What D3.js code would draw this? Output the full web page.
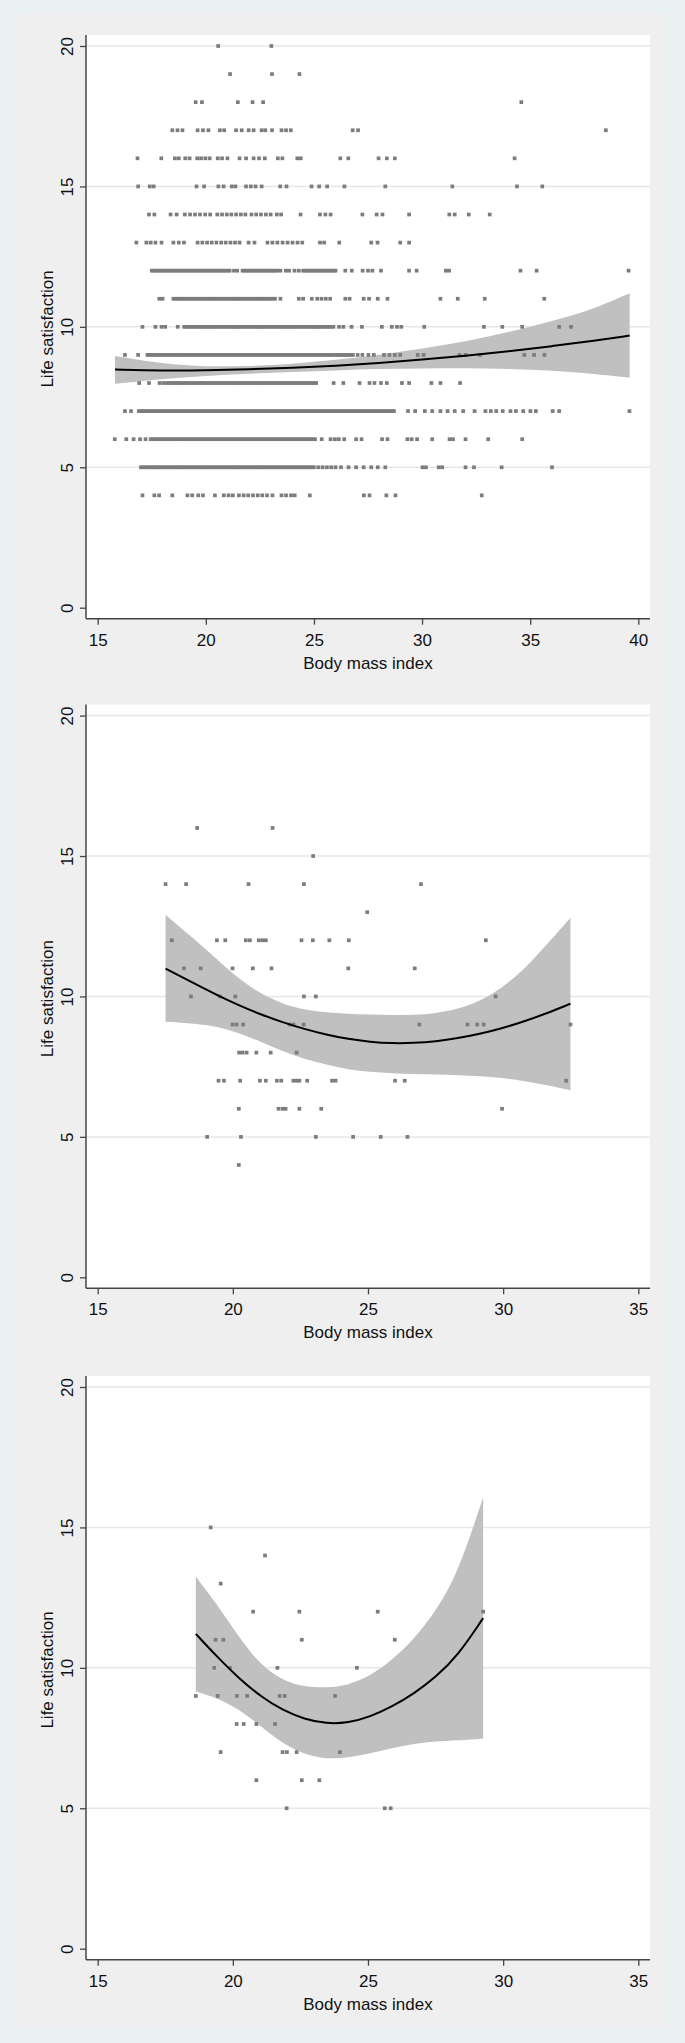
<!DOCTYPE html>
<html>
<head>
<meta charset="utf-8">
<script src="https://cdn.jsdelivr.net/npm/d3@7"></script>
<style>
  body { margin: 0; background: #e9f0f2; }
  svg { display: block; }
  text { font-family: "Liberation Sans", Arial, sans-serif; fill: #111; }
</style>
</head>
<body>
<svg width="685" height="2043"></svg>
<script>
// Panel 1: BMI values of the observations, one array per life-satisfaction score
var p1_20 = [20.57, 23.03];
var p1_19 = [21.12, 23.06, 24.33];
var p1_18 = [19.53, 19.82, 21.48, 22.16, 22.65, 34.59];
var p1_17 = [18.45, 18.69, 18.92, 19.62, 19.87, 20.12, 20.65, 20.85, 21.4, 21.66, 21.98, 22.21, 22.58, 22.75, 23.06, 23.5, 23.71, 23.93, 26.79, 27.04, 38.5];
var p1_16 = [16.84, 17.94, 18.57, 18.75, 19.05, 19.25, 19.6, 19.78, 19.98, 20.18, 20.55, 20.75, 21.0, 21.56, 21.86, 22.21, 22.46, 22.73, 23.33, 23.54, 24.23, 24.39, 26.22, 26.59, 27.99, 28.37, 28.74, 34.28];
var p1_15 = [16.87, 17.41, 17.59, 19.57, 19.92, 20.58, 20.82, 21.2, 21.37, 21.86, 22.08, 22.3, 22.58, 23.44, 23.73, 24.89, 25.24, 25.61, 26.41, 28.3, 31.4, 34.39, 35.56];
var p1_14 = [17.37, 17.62, 18.37, 18.65, 19.03, 19.27, 19.5, 19.73, 19.97, 20.2, 20.53, 20.75, 20.97, 21.18, 21.4, 21.62, 21.83, 22.11, 22.33, 22.55, 22.78, 23.0, 23.28, 23.48, 24.38, 25.28, 25.53, 25.77, 27.24, 27.9, 28.17, 29.4, 31.26, 31.51, 32.16, 33.13];
var p1_13 = [16.79, 17.25, 17.45, 17.67, 17.95, 18.5, 18.75, 18.99, 19.62, 19.84, 20.06, 20.27, 20.49, 20.71, 20.92, 21.14, 21.35, 21.56, 21.98, 22.25, 22.85, 23.08, 23.31, 23.55, 23.78, 24.01, 24.24, 24.46, 25.28, 25.47, 26.17, 27.65, 27.94, 28.99, 29.4];
var p1_12 = [17.5, 17.6, 17.7, 17.8, 17.9, 18, 18.1, 18.2, 18.3, 18.4, 18.5, 18.6, 18.7, 18.8, 18.9, 19, 19.1, 19.2, 19.3, 19.4, 19.5, 19.6, 19.7, 19.8, 19.9, 20, 20.1, 20.2, 20.3, 20.4, 20.5, 20.6, 20.7, 20.8, 20.9, 21, 21.1,
  21.3, 21.45, 21.7, 21.8, 21.9, 22, 22.1, 22.2, 22.3, 22.4, 22.5, 22.6, 22.7, 22.8, 22.9, 23, 23.1, 23.2, 23.3,
  23.45, 23.7, 23.85, 24.1, 24.3, 24.5, 24.6, 24.7, 24.8, 24.9, 25, 25.1, 25.2, 25.3, 25.4, 25.5, 25.6, 25.7, 25.8, 25.9, 26,
  26.45, 26.75, 27.25, 27.5, 27.7, 28.1, 29.4, 29.75, 31.1, 31.25, 34.55, 35.3, 39.55];
var p1_11 = [17.85, 18.0, 18.5, 18.6, 18.7, 18.8, 18.9, 19, 19.1, 19.2, 19.3, 19.4, 19.5, 19.6, 19.7, 19.8, 19.9, 20, 20.1, 20.2, 20.3, 20.4, 20.5, 20.6, 20.7, 20.8, 20.9, 21, 21.1, 21.2, 21.3, 21.4, 21.5, 21.6, 21.7, 21.8, 21.9, 22, 22.1, 22.2, 22.3, 22.4, 22.5, 22.6, 22.7, 22.8, 22.9, 23, 23.1, 23.2,
  23.45, 24.3, 24.5, 24.9, 25.15, 25.35, 25.55, 25.75, 26.45, 26.65, 27.3, 27.55, 27.95, 28.4, 30.85, 31.65, 32.9, 35.65];
var p1_10 = [17.07, 17.67, 17.95, 18.12, 18.7, 19, 19.1, 19.2, 19.3, 19.4, 19.5, 19.6, 19.7, 19.8, 19.9, 20, 20.1, 20.2, 20.3, 20.4, 20.5, 20.6, 20.7, 20.8, 20.9, 21, 21.1, 21.2, 21.3, 21.4, 21.5, 21.6, 21.7, 21.8, 21.9, 22, 22.1, 22.2, 22.3, 22.4, 22.5, 22.6, 22.7, 22.8, 22.9, 23, 23.1, 23.2, 23.3, 23.4, 23.5, 23.6, 23.7, 23.8, 23.9, 24, 24.1, 24.2, 24.3, 24.4, 24.5, 24.6, 24.7, 24.8, 24.9, 25, 25.1, 25.2, 25.3, 25.4, 25.5, 25.6, 25.7, 25.8, 25.9,
  26.16, 26.36, 26.74, 27.22, 28.14, 28.6, 28.84, 29.04, 30.1, 32.86, 33.71, 34.63, 36.34, 36.89];
var p1_9 = [16.26, 16.87, 17.3, 17.4, 17.5, 17.6, 17.7, 17.8, 17.9, 18, 18.1, 18.2, 18.3, 18.4, 18.5, 18.6, 18.7, 18.8, 18.9, 19, 19.1, 19.2, 19.3, 19.4, 19.5, 19.6, 19.7, 19.8, 19.9, 20, 20.1, 20.2, 20.3, 20.4, 20.5, 20.6, 20.7, 20.8, 20.9, 21, 21.1, 21.2, 21.3, 21.4, 21.5, 21.6, 21.7, 21.8, 21.9, 22, 22.1, 22.2, 22.3, 22.4, 22.5, 22.6, 22.7, 22.8, 22.9, 23, 23.1, 23.2, 23.3, 23.4, 23.5, 23.6, 23.7, 23.8, 23.9, 24, 24.1, 24.2, 24.3, 24.4, 24.5, 24.6, 24.7, 24.8, 24.9, 25, 25.1, 25.2, 25.3, 25.4, 25.5, 25.6, 25.7, 25.8, 25.9, 26, 26.1, 26.2, 26.3, 26.4, 26.5, 26.6, 26.7, 26.8,
  27.02, 27.24, 27.52, 27.77, 28.24, 28.49, 28.74, 28.99, 29.8, 30.07, 31.73, 32.01, 32.68, 34.73, 35.18, 35.66];
var p1_8 = [16.92, 17.37, 17.86, 18.03, 18.2, 18.3, 18.4, 18.5, 18.6, 18.7, 18.8, 18.9, 19, 19.1, 19.2, 19.3, 19.4, 19.5, 19.6, 19.7, 19.8, 19.9, 20, 20.1, 20.2, 20.3, 20.4, 20.5, 20.6, 20.7, 20.8, 20.9, 21, 21.1, 21.2, 21.3, 21.4, 21.5, 21.6, 21.7, 21.8, 21.9, 22, 22.1, 22.2, 22.3, 22.4, 22.5, 22.6, 22.7, 22.8, 22.9, 23, 23.1, 23.2, 23.3, 23.4, 23.5, 23.6, 23.7, 23.8, 23.9, 24, 24.1, 24.2, 24.3, 24.4, 24.5, 24.6, 24.7, 24.8, 24.9, 25, 25.1,
  25.91, 26.36, 27.11, 27.57, 27.8, 28.1, 28.37, 29.07, 29.4, 30.43, 30.85, 31.76];
var p1_7 = [16.26, 16.54, 16.9, 17, 17.1, 17.2, 17.3, 17.4, 17.5, 17.6, 17.7, 17.8, 17.9, 18, 18.1, 18.2, 18.3, 18.4, 18.5, 18.6, 18.7, 18.8, 18.9, 19, 19.1, 19.2, 19.3, 19.4, 19.5, 19.6, 19.7, 19.8, 19.9, 20, 20.1, 20.2, 20.3, 20.4, 20.5, 20.6, 20.7, 20.8, 20.9, 21, 21.1, 21.2, 21.3, 21.4, 21.5, 21.6, 21.7, 21.8, 21.9, 22, 22.1, 22.2, 22.3, 22.4, 22.5, 22.6, 22.7, 22.8, 22.9, 23, 23.1, 23.2, 23.3, 23.4, 23.5, 23.6, 23.7, 23.8, 23.9, 24, 24.1, 24.2, 24.3, 24.4, 24.5, 24.6, 24.7, 24.8, 24.9, 25, 25.1, 25.2, 25.3, 25.4, 25.5, 25.6, 25.7, 25.8, 25.9, 26, 26.1, 26.2, 26.3, 26.4, 26.5, 26.6, 26.7, 26.8, 26.9, 27, 27.1, 27.2, 27.3, 27.4, 27.5, 27.6, 27.7, 27.8, 27.9, 28, 28.1, 28.2, 28.3, 28.4, 28.5, 28.6, 28.7,
  29.35, 29.68, 30.13, 30.47, 30.85, 31.18, 31.51, 31.9, 32.43, 32.93, 33.18, 33.43, 33.73, 34.09, 34.34, 34.68, 35.01, 35.26, 36.04, 36.34, 39.59];
var p1_6 = [15.79, 16.32, 16.66, 16.96, 17.21, 17.45, 17.55, 17.65, 17.75, 17.85, 17.95, 18.05, 18.15, 18.25, 18.35, 18.45, 18.55, 18.65, 18.75, 18.85, 18.95, 19.05, 19.15, 19.25, 19.35, 19.45, 19.55, 19.65, 19.75, 19.85, 19.95, 20.05, 20.15, 20.25, 20.35, 20.45, 20.55, 20.65, 20.75, 20.85, 20.95, 21.05, 21.15, 21.25, 21.35, 21.45, 21.55, 21.65, 21.75, 21.85, 21.95, 22.05, 22.15, 22.25, 22.35, 22.45, 22.55, 22.65, 22.75, 22.85, 22.95, 23.05, 23.15, 23.25, 23.35, 23.45, 23.55, 23.65, 23.75, 23.85, 23.95, 24.05, 24.15, 24.25, 24.35, 24.45, 24.55, 24.65, 24.75, 24.85, 24.95, 25.05,
  25.36, 25.77, 25.97, 26.15, 26.4, 26.95, 27.2, 28.15, 28.4, 29.32, 29.52, 29.77, 30.47, 31.27, 31.43, 32.01, 33.06, 34.63];
var p1_5 = [17, 17.1, 17.2, 17.3, 17.4, 17.5, 17.6, 17.7, 17.8, 17.9, 18, 18.1, 18.2, 18.3, 18.4, 18.5, 18.6, 18.7, 18.8, 18.9, 19, 19.1, 19.2, 19.3, 19.4, 19.5, 19.6, 19.7, 19.8, 19.9, 20, 20.1, 20.2, 20.3, 20.4, 20.5, 20.6, 20.7, 20.8, 20.9, 21, 21.1, 21.2, 21.3, 21.4, 21.5, 21.6, 21.7, 21.8, 21.9, 22, 22.1, 22.2, 22.3, 22.4, 22.5, 22.6, 22.7, 22.8, 22.9, 23, 23.1, 23.2, 23.3, 23.4, 23.5, 23.6, 23.7, 23.8, 23.9, 24, 24.1, 24.2, 24.3, 24.4, 24.5, 24.6, 24.7, 24.8, 24.9, 25,
  25.2, 25.4, 25.6, 25.8, 26.0, 26.25, 26.6, 26.95, 27.3, 27.65, 27.95, 28.3, 30.02, 30.18, 30.77, 30.93, 32.01, 32.4, 33.68, 36.01];
var p1_4 = [17.07, 17.62, 17.84, 18.45, 19.15, 19.37, 19.65, 19.87, 20.42, 20.83, 21.05, 21.25, 21.53, 21.75, 21.96, 22.18, 22.4, 22.61, 22.83, 23.08, 23.5, 23.71, 23.94, 24.11, 24.81, 27.31, 27.57, 28.35, 28.77, 32.76];

var p1Rows = [[20, p1_20], [19, p1_19], [18, p1_18], [17, p1_17], [16, p1_16], [15, p1_15], [14, p1_14], [13, p1_13],
  [12, p1_12], [11, p1_11], [10, p1_10], [9, p1_9], [8, p1_8], [7, p1_7], [6, p1_6], [5, p1_5], [4, p1_4]];

// Panel 1 quadratic fit with confidence band
var p1FitX = [15.8, 18, 20, 22, 24, 26, 28, 30, 32, 34, 36, 38, 39.6];
var p1Fit = [8.48, 8.44, 8.45, 8.49, 8.54, 8.61, 8.71, 8.83, 8.97, 9.13, 9.31, 9.51, 9.69];
var p1Hi = [8.96, 8.68, 8.58, 8.6, 8.68, 8.82, 9.0, 9.22, 9.48, 9.8, 10.2, 10.65, 11.2];
var p1Lo = [7.97, 8.15, 8.26, 8.33, 8.39, 8.45, 8.5, 8.52, 8.53, 8.51, 8.44, 8.33, 8.19];

// Panel 2
var p2_16 = [18.68, 21.47];
var p2_15 = [22.97];
var p2_14 = [17.51, 18.27, 20.58, 22.63, 26.96];
var p2_13 = [24.97];
var p2_12 = [17.74, 19.41, 19.72, 20.48, 20.63, 20.96, 21.09, 21.22, 22.54, 22.96, 23.57, 24.29, 29.36];
var p2_11 = [18.19, 18.81, 19.99, 20.74, 21.43, 24.27, 26.73];
var p2_10 = [18.45, 19.52, 20.09, 22.63, 23.07, 29.72];
var p2_9 = [19.99, 20.14, 20.38, 22.1, 22.24, 22.62, 26.9, 28.68, 29.04, 29.28, 32.49];
var p2_8 = [20.23, 20.36, 20.51, 20.87, 21.4, 22.36];
var p2_7 = [19.47, 19.67, 20.27, 21.0, 21.22, 21.63, 21.79, 22.24, 22.36, 22.46, 22.75, 23.67, 23.8, 26.0, 26.36, 32.33];
var p2_6 = [20.22, 21.69, 21.84, 21.95, 22.46, 23.27, 29.96];
var p2_5 = [19.05, 20.3, 23.07, 24.45, 25.47, 26.46];
var p2_4 = [20.22];
var p2Rows = [[16, p2_16], [15, p2_15], [14, p2_14], [13, p2_13], [12, p2_12], [11, p2_11], [10, p2_10],
  [9, p2_9], [8, p2_8], [7, p2_7], [6, p2_6], [5, p2_5], [4, p2_4]];

var p2FitX = [17.51, 18.6, 19.41, 20.22, 21.03, 21.84, 22.65, 23.46, 24.27, 25.08, 25.89, 26.7, 27.51, 28.32, 29.13, 29.94, 30.75, 31.56, 32.49];
var p2Fit = [10.99, 10.45, 10.05, 9.68, 9.36, 9.08, 8.84, 8.64, 8.48, 8.38, 8.33, 8.34, 8.4, 8.51, 8.66, 8.86, 9.1, 9.38, 9.74];
var p2Hi = [12.91, 12.02, 11.33, 10.63, 10.09, 9.74, 9.52, 9.43, 9.38, 9.35, 9.34, 9.34, 9.4, 9.55, 9.83, 10.29, 10.94, 11.78, 12.8];
var p2Lo = [9.1, 9.03, 8.93, 8.7, 8.39, 8.04, 7.77, 7.57, 7.39, 7.31, 7.26, 7.23, 7.23, 7.2, 7.16, 7.11, 7.0, 6.85, 6.66];

// Panel 3
var p3_15 = [19.18];
var p3_14 = [21.19];
var p3_13 = [19.55];
var p3_12 = [20.75, 22.46, 25.36, 29.26];
var p3_11 = [19.36, 19.65, 22.55, 25.99];
var p3_10 = [19.31, 19.89, 21.65, 24.59];
var p3_9 = [18.63, 19.44, 20.15, 20.53, 21.73, 21.92, 23.78];
var p3_8 = [20.14, 20.4, 20.87, 21.56];
var p3_7 = [19.55, 21.84, 22.0, 22.36, 23.96];
var p3_6 = [20.87, 22.55, 23.2];
var p3_5 = [21.99, 25.62, 25.84];
var p3Rows = [[15, p3_15], [14, p3_14], [13, p3_13], [12, p3_12], [11, p3_11], [10, p3_10],
  [9, p3_9], [8, p3_8], [7, p3_7], [6, p3_6], [5, p3_5]];

var p3FitX = [18.63, 19.41, 20.22, 21.03, 21.84, 22.65, 23.46, 24.27, 25.08, 25.89, 26.7, 27.51, 28.32, 29.26];
var p3Fit = [11.21, 10.4, 9.63, 8.98, 8.49, 8.17, 8.01, 8.04, 8.26, 8.62, 9.08, 9.67, 10.43, 11.77];
var p3Hi = [13.25, 12.27, 11.1, 10.09, 9.55, 9.32, 9.29, 9.38, 9.71, 10.28, 11.02, 12.03, 13.35, 16.07];
var p3Lo = [9.16, 8.93, 8.54, 7.92, 7.3, 6.91, 6.75, 6.8, 6.96, 7.14, 7.3, 7.38, 7.42, 7.48];

// axis ticks
var yTicks = [0, 5, 10, 15, 20];
var xTicks40 = [15, 20, 25, 30, 35, 40];
var xTicks35 = [15, 20, 25, 30, 35];

var svg = d3.select("svg");

// grey graph region behind the three panels
svg.append("rect")
    .attr("x", 17).attr("y", 13)
    .attr("width", 650).attr("height", 2015)
    .attr("fill", "#efefef");

function drawPanel(top, xMax, xTicks, rows, fitX, fit, lo, hi) {
    var left = 86, right = 650, axisY = top + 583.7;

    var x = d3.scaleLinear().domain([15, xMax]).range([97.7, 638.3]),
        y = d3.scaleLinear().domain([0, 20]).range([top + 572.7, top + 11]);

    var g = svg.append("g");

    // plot region
    g.append("rect")
        .attr("x", left).attr("y", top)
        .attr("width", right - left).attr("height", axisY - top)
        .attr("fill", "#fff");

    // horizontal grid
    g.selectAll(".grid")
        .data(yTicks.filter(function(d) { return d > 0; }))
        .enter().append("line")
        .attr("x1", left).attr("x2", right)
        .attr("y1", function(d) { return y(d); })
        .attr("y2", function(d) { return y(d); })
        .attr("stroke", "#e4e8e9")
        .attr("stroke-width", 1.5);

    var fitData = fitX.map(function(d, i) { return {x: d, f: fit[i], lo: lo[i], hi: hi[i]}; });

    // confidence band
    g.append("path")
        .datum(fitData)
        .attr("fill", "#c0c0c0")
        .attr("d", d3.area()
            .x(function(d) { return x(d.x); })
            .y0(function(d) { return y(d.lo); })
            .y1(function(d) { return y(d.hi); })
            .curve(d3.curveBasis));

    // scatter
    var pts = [];
    rows.forEach(function(r) {
        r[1].forEach(function(b) { pts.push({x: b, y: r[0]}); });
    });
    g.selectAll(".pt")
        .data(pts)
        .enter().append("rect")
        .attr("x", function(d) { return x(d.x) - 1.85; })
        .attr("y", function(d) { return y(d.y) - 1.85; })
        .attr("width", 3.7).attr("height", 3.7)
        .attr("fill", "#7c7c7c");

    // fitted line
    g.append("path")
        .datum(fitData)
        .attr("fill", "none")
        .attr("stroke", "#000")
        .attr("stroke-width", 2)
        .attr("d", d3.line()
            .x(function(d) { return x(d.x); })
            .y(function(d) { return y(d.f); })
            .curve(d3.curveBasis));

    // x axis
    var xg = g.append("g")
        .attr("transform", "translate(0," + axisY + ")")
        .call(d3.axisBottom(x).tickValues(xTicks).tickSize(6).tickSizeOuter(0));
    xg.select(".domain").remove();
    xg.selectAll("line").attr("stroke", "#444").attr("stroke-width", 1.3);
    xg.selectAll("text")
        .attr("y", 27).attr("dy", null)
        .attr("font-size", 17)
        .attr("font-family", "Liberation Sans, Arial, sans-serif")
        .attr("fill", "#111");

    // y axis
    var yg = g.append("g")
        .attr("transform", "translate(" + left + ",0)")
        .call(d3.axisLeft(y).tickValues(yTicks).tickSize(6).tickSizeOuter(0));
    yg.select(".domain").remove();
    yg.selectAll("line").attr("stroke", "#444").attr("stroke-width", 1.3);
    yg.selectAll("text")
        .attr("x", null).attr("dy", null)
        .attr("transform", "translate(-13.5,0) rotate(-90)")
        .attr("text-anchor", "middle")
        .attr("font-size", 17)
        .attr("font-family", "Liberation Sans, Arial, sans-serif")
        .attr("fill", "#111");

    // axis lines
    g.append("line")
        .attr("x1", left).attr("x2", right)
        .attr("y1", axisY).attr("y2", axisY)
        .attr("stroke", "#444").attr("stroke-width", 1.5);
    g.append("line")
        .attr("x1", left).attr("x2", left)
        .attr("y1", top).attr("y2", axisY)
        .attr("stroke", "#444").attr("stroke-width", 1.5);

    // titles
    g.append("text")
        .attr("x", (left + right) / 2)
        .attr("y", axisY + 50)
        .attr("text-anchor", "middle")
        .style("font-size", "17px")
        .text("Body mass index");

    g.append("text")
        .attr("transform", "translate(53," + (top + 294) + ") rotate(-90)")
        .attr("text-anchor", "middle")
        .style("font-size", "17px")
        .text("Life satisfaction");
}

drawPanel(35, 40, xTicks40, p1Rows, p1FitX, p1Fit, p1Lo, p1Hi);
drawPanel(704.6, 35, xTicks35, p2Rows, p2FitX, p2Fit, p2Lo, p2Hi);
drawPanel(1376, 35, xTicks35, p3Rows, p3FitX, p3Fit, p3Lo, p3Hi);
</script>
</body>
</html>
